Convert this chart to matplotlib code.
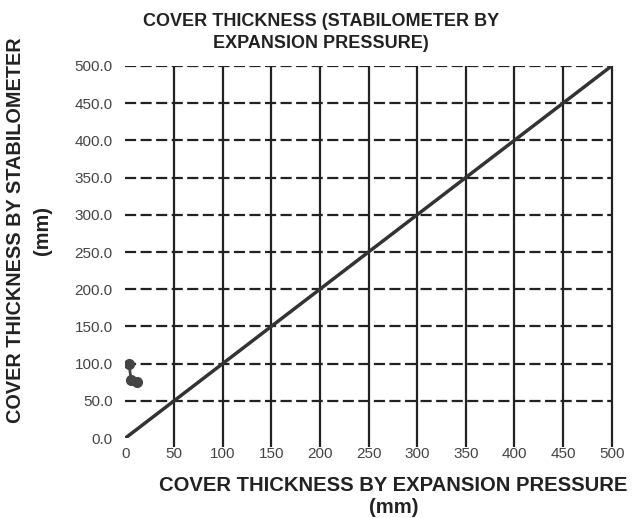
import matplotlib
matplotlib.use("Agg")
import matplotlib.pyplot as plt

plt.rcParams['font.family'] = ['Liberation Sans', 'DejaVu Sans']

x_pts = [4, 6, 12]
y_pts = [100, 78, 75]
line_x = [0, 500]
line_y = [0, 500]
xticks = [0, 50, 100, 150, 200, 250, 300, 350, 400, 450, 500]
yticks = [0, 50, 100, 150, 200, 250, 300, 350, 400, 450, 500]

fig = plt.figure(figsize=(6.42, 5.18), dpi=100)
ax = fig.add_axes([0.195, 0.154, 0.758, 0.719])

ax.hlines(yticks[1:], 0, 500, color='#222222', lw=1.6, linestyles=[(0, (5, 2))], zorder=1)
ax.vlines(xticks[1:], -12, 500, color='#222222', lw=1.6, zorder=1, clip_on=False)

ax.plot(line_x, line_y, color='#333333', lw=2.5, zorder=3)
ax.plot(x_pts, y_pts, color='#444444', lw=2, marker='o', ms=7, zorder=4)

ax.set_xlim(0, 500)
ax.set_ylim(0, 500)
ax.set_xticks(xticks)
ax.set_yticks(yticks)
ax.set_xticklabels([str(v) for v in xticks], fontsize=11, color='#444444')
ax.set_yticklabels([f"{v:.1f}" for v in yticks], fontsize=11, color='#444444')
ax.tick_params(axis='x', length=0, pad=6)
ax.tick_params(axis='y', length=0, pad=9)
for s in ['top', 'right', 'left', 'bottom']:
    ax.spines[s].set_visible(False)

fig.text(0.5, 0.975, "COVER THICKNESS (STABILOMETER BY\nEXPANSION PRESSURE)", ha='center', va='top',
         fontsize=13, fontweight='bold', color='#222222', linespacing=1.4)
fig.text(0.613, 0.082, "COVER THICKNESS BY EXPANSION PRESSURE\n(mm)", ha='center', va='top',
         fontsize=14.6, fontweight='bold', color='#222222', linespacing=1.25)
fig.text(0.045, 0.555, "COVER THICKNESS BY STABILOMETER\n(mm)", ha='center', va='center', rotation=90,
         fontsize=14.3, fontweight='bold', color='#222222', linespacing=1.5)

fig.savefig("out.png", dpi=100)
